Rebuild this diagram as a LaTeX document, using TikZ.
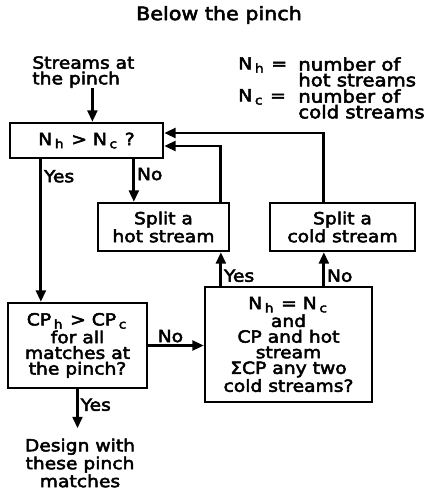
\documentclass[tikz,border=0pt]{standalone}
\usepackage{fontspec}
\setmainfont{DejaVu Sans}[FakeStretch=1.12,FakeBold=3]
\usetikzlibrary{arrows.meta}
\newcommand{\lsub}[1]{\kern1.5pt\raisebox{-0.35ex}{\scriptsize #1}\kern1pt\relax}
\tikzset{
  box/.style={draw,line width=1.3pt,align=center,inner sep=1pt},
  flow/.style={line width=1.6pt,->},
  tag/.style={inner sep=1pt}
}
\begin{document}
\begin{tikzpicture}[x=0.02cm,y=-0.02cm,font=\fontsize{9.5pt}{8.9pt}\selectfont,>={Triangle[length=6.5pt,width=5.5pt]}]
  \useasboundingbox (0,0) rectangle (447,491);
  \node[font=\fontsize{10.5pt}{10pt}\selectfont] (title) at (219,15) {Below the pinch};
  \node[align=left,anchor=west,inner sep=0pt] (streams) at (32,72) {Streams at\\the pinch};
  % legend
  \node[anchor=west,inner sep=0pt] (nh) at (238,65) {N\lsub{h} =};
  \node[anchor=north west,align=left,font=\fontsize{10pt}{8.9pt}\selectfont,inner sep=0pt] (nhdef) at (298,57) {number of\\hot streams};
  \node[anchor=west,inner sep=0pt] (nc) at (238,97) {N\lsub{c} =};
  \node[anchor=north west,align=left,font=\fontsize{10pt}{8.9pt}\selectfont,inner sep=0pt] (ncdef) at (298,89) {number of\\cold streams};
  % boxes
  \node[box,minimum width=3.06cm,minimum height=0.7cm] (decide) at (86.5,140.5) {N\lsub{h} > N\lsub{c} ?};
  \node[box,minimum width=2.62cm,minimum height=0.96cm] (splith) at (163.5,227) {Split a\\hot stream};
  \node[box,minimum width=2.9cm,minimum height=0.96cm] (splitc) at (342.5,227) {Split a\\cold stream};
  \node[box,minimum width=2.78cm,minimum height=1.7cm] (cpcheck) at (77.5,345.5) {CP\lsub{h} > CP\lsub{c}\\for all\\matches at\\the pinch?};
  \node[box,minimum width=3.34cm,minimum height=2.3cm] (equal) at (288.5,344.5) {N\lsub{h} = N\lsub{c}\\and\\CP and hot\\stream\\ΣCP any two\\cold streams?};
  \node[align=center,inner sep=0pt] (design) at (80,463) {Design with\\these pinch\\matches};
  % connectors
  \draw[flow] ([xshift=0.18cm]streams.south) -- ([xshift=0.18cm]streams.south |- decide.north);
  \draw[flow] ([xshift=0.64cm]decide.south west) -- ([xshift=0.64cm]decide.south west |- cpcheck.north)
    node[tag,pos=0.12,right] {Yes};
  \draw[flow] ([xshift=2.5cm]decide.south west) -- ([xshift=2.5cm]decide.south west |- splith.north)
    node[tag,pos=0.35,right] {No};
  \draw[flow] ([xshift=2.48cm]splith.north west) |- ([yshift=-0.11cm]decide.east);
  \draw[flow] ([xshift=1.1cm]splitc.north west) |- ([yshift=0.15cm]decide.east);
  \draw[flow] ([xshift=0.34cm]equal.north west) -- ([xshift=0.34cm]equal.north west |- splith.south)
    node[tag,pos=0.3,right] {Yes};
  \draw[flow] ([xshift=2.4cm]equal.north west) -- ([xshift=2.4cm]equal.north west |- splitc.south)
    node[tag,pos=0.3,right] {No};
  \draw[flow] (cpcheck.east) -- (cpcheck.east -| equal.west)
    node[tag,pos=0.4,above] {No};
  \draw[flow] (cpcheck.south) -- ([yshift=0.2cm]cpcheck.south |- design.north)
    node[tag,pos=0.4,right] {Yes};
\end{tikzpicture}
\end{document}
